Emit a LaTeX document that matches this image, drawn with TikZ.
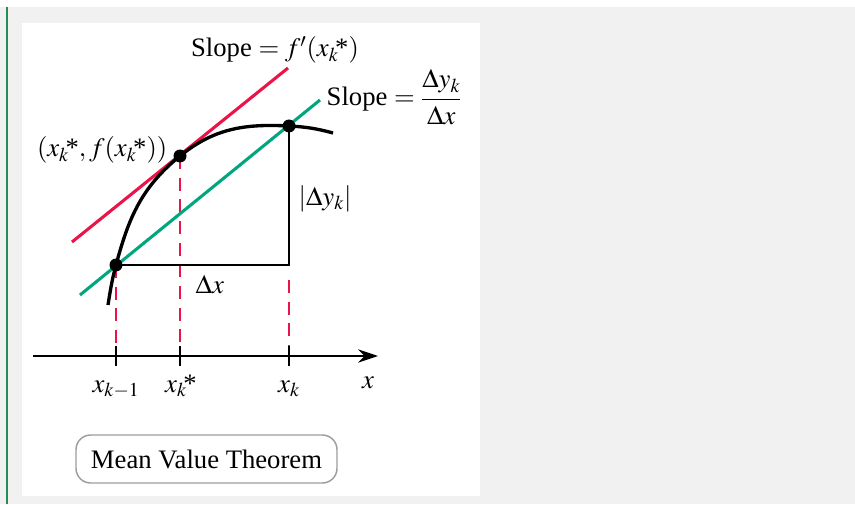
\documentclass[tikz,border=0pt]{standalone}
\usepackage{amsmath}
\usepackage{mathptmx}
\usepackage{fontspec}
\setmainfont{Liberation Serif}
\usetikzlibrary{arrows.meta}
\definecolor{tanred}{RGB}{234,20,72}
\definecolor{secgreen}{RGB}{0,166,126}
\definecolor{pagegray}{RGB}{241,241,241}
\definecolor{barcol}{RGB}{38,140,84}
\definecolor{boxgray}{RGB}{158,158,158}
\newcommand{\xks}{x_k\kern-2.5pt\text{*}}

\begin{document}
\begin{tikzpicture}[x=.75pt,y=.75pt,line width=1.1pt,font=\fontsize{20}{24}\selectfont,
  dot/.style={circle,fill=black,inner sep=0pt,minimum size=9.75pt},
  lbl/.style={inner sep=0pt},
  dashline/.style={tanred,line width=1.1pt,dash pattern=on 9.75pt off 6.5pt},
  fatline/.style={line width=2.3pt}]
\useasboundingbox (0,0) rectangle (855,504);
\fill[white] (0,0) rectangle (855,504);
\fill[pagegray] (0,0) rectangle (855,497);
\fill[white] (22,8) rectangle (480,481);
\draw[barcol,line width=1.5pt] (6.5,0) -- (6.5,497);
\coordinate (axL) at (33,148);
\coordinate (axR) at (378,148);
\coordinate (ta) at (116,148);
\coordinate (tp) at (180,148);
\coordinate (tb) at (289,148);
\coordinate (A) at (116,239);
\coordinate (P) at (180,348);
\coordinate (B) at (289,378);
\coordinate (C) at (289,239);
\coordinate (bdash) at (289,224);
\coordinate (tanL) at (72,262);
\coordinate (tanR) at (288,436);
\coordinate (secL) at (80,209);
\coordinate (secR) at (320,404);
\coordinate (cbot) at (108,199);
\coordinate (ctop) at (333,371);
\draw[dashline] (A) -- ([yshift=7.5pt]ta);
\draw[dashline] (P) -- ([yshift=7.5pt]tp);
\draw[dashline] (bdash) -- ([yshift=7.5pt]tb);
\draw[-{Stealth[length=15pt,width=10pt]}] (axL) -- (axR);
\foreach \t in {ta,tp,tb} \draw ([yshift=7.5pt]\t) -- ([yshift=-7.5pt]\t);
\draw (A) -- (C) -- (B);
\draw[fatline,tanred] (tanL) -- (tanR);
\draw[fatline,secgreen] (secL) -- (secR);
\draw[line width=2.5pt] (cbot) to[out=81,in=-105] (A) to[out=75,in=-141] (P) to[out=39,in=177] (B) to[out=-3,in=165] (ctop);
\foreach \p in {A,P,B} \node[dot] at (\p) {};
\node[lbl,anchor=base] (tanlbl) at (275,447) {Slope $= f'(\xks)$};
\node[lbl,anchor=base west] (seclbl) at (326,398) {Slope $= \dfrac{\Delta y_k}{\Delta x}$};
\node[lbl,anchor=base east] (ptlbl) at (168,347) {$(\xks,f(\xks))$};
\node[lbl,anchor=base west] (dylbl) at (298,299) {$|\Delta y_k|$};
\node[lbl,anchor=base west] (dxlbl) at (195,211) {$\Delta x$};
\node[lbl,anchor=base] (xa) at (116,112) {$x_{k-1}$};
\node[lbl,anchor=base] (xp) at (181,112) {$\xks$};
\node[lbl,anchor=base] (xb) at (289,112) {$x_k$};
\node[lbl,anchor=base] (xlbl) at (368,116) {$x$};
\node[draw=boxgray,line width=1.1pt,rounded corners=11pt,minimum width=195.75pt,minimum height=36pt,inner sep=0pt] (mvt) at (206.5,45) {Mean Value Theorem};
\end{tikzpicture}
\end{document}
